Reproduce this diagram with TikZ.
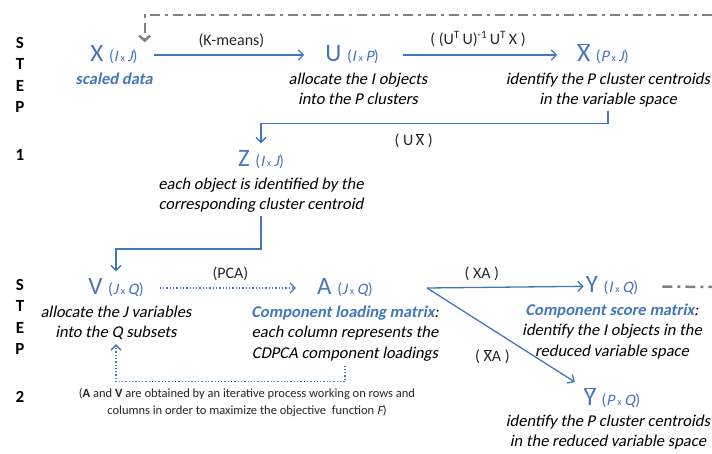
\documentclass[tikz,border=0pt]{standalone}
\usepackage{fontspec}
\setmainfont{Carlito}[ItalicFont=Carlito, ItalicFeatures={FakeSlant=0.2}, BoldItalicFont=Carlito Bold, BoldItalicFeatures={FakeSlant=0.2}]
\usepackage{xcolor}
\usetikzlibrary{positioning}
\usetikzlibrary{arrows.meta}
\definecolor{niebieski}{RGB}{68,118,190}
\definecolor{szary}{RGB}{128,128,128}
\newcommand{\wym}[2]{{\fontsize{16}{16}\selectfont(\textit{#1}\,{\fontsize{10}{10}\selectfont x}\,\textit{#2})}}
\newcommand{\kres}[1]{$\overline{\mbox{#1}}$}

\begin{document}
\begin{tikzpicture}[x=1pt,y=-1pt,
		mac/.style={text=niebieski, font=\fontsize{25}{25}\selectfont, inner sep=2pt, text height=17pt, text depth=4pt},
		opis/.style={align=center, font=\fontsize{16.5}{20.5}\selectfont\itshape, inner sep=0pt},
		krok/.style={align=center, font=\fontsize{17}{21.5}\selectfont\bfseries, inner sep=0pt},
		etyk/.style={font=\fontsize{16}{16}\selectfont, text=black!85},
		strz/.style={draw=niebieski, line width=1.3pt, -{Straight Barb[length=5pt,width=10pt]}},
		strzk/.style={strz, dotted},
		petla/.style={draw=szary, line width=2.5pt, dash pattern=on 10pt off 5pt on 3pt off 5pt}]
		\useasboundingbox (0,0) rectangle (712,454);
		% krok 1
		\node[krok, anchor=north] (krok1) at (20,37) {S\\T\\E\\P\\[26pt]1};
		\node[mac] (x) at (114,55) {X \wym{I}{J}};
		\node[opis, below=5pt of x] (xd) {\textbf{\color{niebieski}scaled data}};
		\node[mac] (u) at (352,55) {U \wym{I}{P}};
		\node[opis, below=5pt of u, xshift=6pt] (ud) {allocate the I objects\\into the P clusters};
		\node[mac] (xs) at (603,55) {\kres{X} \wym{P}{J}};
		\node[opis, below=5pt of xs, xshift=5pt] (xsd) {identify the P cluster centroids\\in the variable space};
		\node[mac] (z) at (261,160) {Z \wym{I}{J}};
		\node[opis, below=5pt of z] (zd) {each object is identified by the\\corresponding cluster centroid};
		% krok 2
		\node[krok, anchor=north] (krok2) at (20,279) {S\\T\\E\\P\\[26pt]2};
		\node[mac] (v) at (116,288) {V \wym{J}{Q}};
		\node[opis, below=5pt of v] (vd) {allocate the J variables\\into the Q subsets};
		\node[mac] (a) at (345,288) {A \wym{J}{Q}};
		\node[opis, below=5pt of a] (ad) {\textbf{\color{niebieski}Component loading matrix}:\\each column represents the\\CDPCA component loadings};
		\node[mac] (y) at (612,286) {Y \wym{I}{Q}};
		\node[opis, below=5pt of y] (yd) {\textbf{\color{niebieski}Component score matrix}:\\identify the I objects in the\\reduced variable space};
		\node[mac] (ys) at (612,399) {\kres{Y} \wym{P}{Q}};
		\node[opis, below=3pt of ys, xshift=-4pt] (ysd) {identify the P cluster centroids\\in the reduced variable space};
		\node[align=center, font=\fontsize{12.5}{17}\selectfont, text=black!85] (uwaga) at (247,403) {(\textbf{A} and \textbf{V} are obtained by an iterative process working on rows and\\columns in order to maximize the objective\ \ function \textit{F})};
		\coordinate (rozw) at (427,288);
		\coordinate (petlaw) at (712,15);
		\coordinate (petlaz) at (712,287);
		% strzalki
		\path[strz, shorten <=14pt, shorten >=19pt] (x) -- node[etyk, above=3pt] {(K-means)} (u);
		\path[strz, shorten <=22pt, shorten >=18pt] (u) -- node[etyk, above=4pt] {( (U\textsuperscript{T}\,U)\textsuperscript{-1}\,U\textsuperscript{T}\,X )} (xs);
		\path[strz, shorten <=3pt, shorten >=4pt] (xsd.south) -- ++(0,16) -| node[etyk, pos=0.28, below=6pt] {( U\,\kres{X} )} (z.north);
		\path[strz, shorten <=3pt, shorten >=4pt] (zd.south) -- ++(0,36) -| (v.north);
		\path[strzk, shorten <=14pt, shorten >=19pt] (v) -- node[etyk, above=3pt] {(PCA)} (a);
		\path[strzk, shorten <=4pt, shorten >=4pt] (ad.south) -- ++(0,20) -| (vd.south);
		\path[strz] (rozw) -- node[etyk, pos=0.35, above=3pt] {( XA )} (y);
		\path[strz, shorten >=8pt] (rozw) -- node[etyk, pos=0.57, below left=2pt] {( \kres{X}A )} (ys.north west);
		\path[petla, -{Straight Barb[length=5pt,width=11pt]}] (petlaw) -| ([xshift=5pt]x.north east);
		\path[petla, shorten <=22pt] (y) -- (petlaz);
	\end{tikzpicture}
\end{document}
